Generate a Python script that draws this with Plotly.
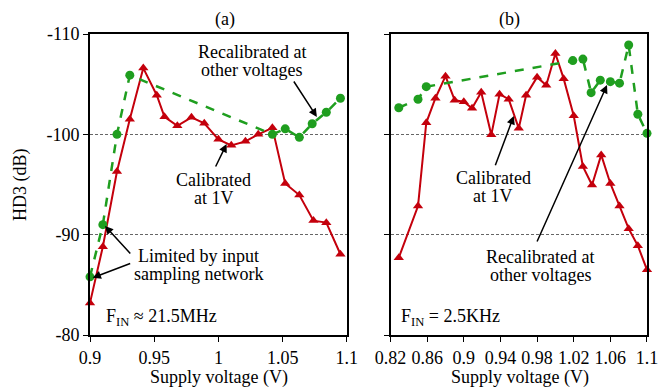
import plotly.graph_objects as go

# ---- data ----
left_v_red = [0.900, 0.910, 0.921, 0.931, 0.9415, 0.952, 0.958, 0.968, 0.979, 0.989,
              1.000, 1.010, 1.021, 1.031, 1.042, 1.052, 1.063, 1.074, 1.084, 1.095]
left_red = [-83.2, -88.8, -96.3, -101.5, -106.6, -103.9, -101.75, -100.85, -101.7, -101.1,
            -99.5, -98.9, -99.3, -100.0, -100.65, -95.1, -93.95, -91.4, -91.2, -88.05]
left_v_green = [0.900, 0.910, 0.921, 0.931, 1.042, 1.052, 1.063, 1.073, 1.084, 1.095]
left_green = [-85.8, -91.0, -100.0, -105.9, -100.0, -100.55, -99.7, -101.05, -102.2, -103.6]

right_v_red = [0.829, 0.850, 0.859, 0.869, 0.880, 0.890, 0.900, 0.909, 0.919, 0.930,
               0.939, 0.949, 0.960, 0.968, 0.980, 0.990, 1.000, 1.009, 1.020, 1.030,
               1.040, 1.050, 1.060, 1.070, 1.080, 1.090, 1.100]
right_red = [-87.7, -92.85, -101.15, -103.6, -105.8, -103.4, -103.25, -102.6, -104.2, -99.95,
             -104.0, -103.5, -100.6, -103.9, -105.7, -104.9, -108.05, -105.55, -101.85, -96.8,
             -94.95, -97.95, -95.1, -92.85, -90.6, -88.9, -86.5]
right_v_green = [0.829, 0.850, 0.859, 1.019, 1.030, 1.039, 1.049, 1.060, 1.070, 1.080, 1.090, 1.100]
right_green = [-102.65, -103.5, -104.75, -107.35, -107.5, -104.15, -105.4, -105.25, -105.1,
               -108.9, -102.0, -100.1]

y_tickvals = [-110, -100, -90, -80]
y_ticktext = ["-110", "-100", "-90", "-80"]
left_xticks = [0.9, 0.95, 1.0, 1.05, 1.1]
left_xtext = ["0.9", "0.95", "1", "1.05", "1.1"]
right_xticks = [0.82, 0.86, 0.9, 0.94, 0.98, 1.02, 1.06, 1.1]
right_xtext = ["0.82", "0.86", "0.9", "0.94", "0.98", "1.02", "1.06", "1.1"]

RED = "#c4000c"
GREEN = "#1f9e1f"
FONT = "Liberation Serif"

W, H = 670, 387
L, R, T, B = 90, 647.3, 34, 335


def px(x):
    return (x - L) / (R - L)


def py(y):
    return (B - y) / (B - T)


fig = go.Figure()


def add_series(xs, ys, color, dash, symbol, size, xa, ya, width):
    fig.add_trace(go.Scatter(
        x=xs, y=ys, mode="lines+markers", xaxis=xa, yaxis=ya,
        line=dict(color=color, width=width, dash=dash),
        marker=dict(color=color, symbol=symbol, size=size),
        cliponaxis=False, showlegend=False))


add_series(left_v_red, left_red, RED, "solid", "triangle-up", 9, "x", "y", 2)
add_series(left_v_green, left_green, GREEN, "dash", "circle", 9, "x", "y", 2.5)
add_series(right_v_red, right_red, RED, "solid", "triangle-up", 9, "x2", "y2", 2)
add_series(right_v_green, right_green, GREEN, "dash", "circle", 9, "x2", "y2", 2.5)

axis_common = dict(showline=True, linecolor="black", linewidth=2, mirror=True,
                   ticks="outside", ticklen=5, tickwidth=1.3, tickcolor="black",
                   tickfont=dict(family=FONT, size=18, color="black"), zeroline=False)

d1 = px(347)
d2 = px(390.7)
fig.update_layout(
    width=W, height=H,
    margin=dict(l=L, r=W - R, t=T, b=H - B),
    paper_bgcolor="white", plot_bgcolor="white",
    font=dict(family=FONT, size=18, color="black"),
    xaxis=dict(domain=[0, d1], range=[0.9, 1.1], tickvals=left_xticks, ticktext=left_xtext,
               showgrid=False, **axis_common),
    yaxis=dict(domain=[0, 1], range=[-80, -110], tickvals=y_tickvals, ticktext=y_ticktext,
               showgrid=True, gridcolor="#666", gridwidth=0.8, griddash="3px,2px",
               anchor="x", **axis_common),
    xaxis2=dict(domain=[d2, 1], range=[0.82, 1.1], tickvals=right_xticks, ticktext=right_xtext,
                showgrid=False, anchor="y2", **axis_common),
    yaxis2=dict(domain=[0, 1], range=[-80, -110], tickvals=y_tickvals, ticktext=y_ticktext,
                showticklabels=False, showgrid=True, gridcolor="#666", gridwidth=0.8,
                griddash="3px,2px", anchor="x2", **axis_common),
)


def text(x, y, s, xanchor="center", angle=0):
    fig.add_annotation(x=px(x), y=py(y), xref="paper", yref="paper", text=s,
                       showarrow=False, xanchor=xanchor, yanchor="middle",
                       textangle=angle, font=dict(family=FONT, size=18, color="black"))


def arrow(x0, y0, x1, y1):
    fig.add_annotation(x=px(x1), y=py(y1), xref="paper", yref="paper",
                       ax=x0 - x1, ay=y0 - y1, axref="pixel", ayref="pixel",
                       text="", showarrow=True, arrowhead=2, arrowsize=1.1,
                       arrowwidth=1.5, arrowcolor="black")


# titles
text(225, 20, "(a)")
text(510, 20, "(b)")
text(219.5, 377, "Supply voltage (V)")
text(520, 377, "Supply voltage (V)")
text(20, 185, "HD3 (dB)", angle=-90)

# left panel annotations
text(251.7, 52, "Recalibrated at")
text(251.7, 70, "other voltages")
arrow(293, 80, 317, 117)
text(214, 180, "Calibrated")
text(214, 198, "at 1V")
arrow(215, 168, 226.7, 144)
text(198.5, 256, "Limited by input")
text(198.5, 274, "sampling network")
arrow(131.7, 255, 105, 226)
arrow(131.7, 263, 92.7, 277.7)
text(104, 317, "F<sub>IN</sub> \u2248 21.5MHz", xanchor="left")

# right panel annotations
text(493.3, 178, "Calibrated")
text(493.3, 196, "at 1V")
arrow(495, 166.7, 514, 116)
text(540.7, 257, "Recalibrated at")
text(540.7, 275, "other voltages")
arrow(536.7, 243, 607.3, 85)
text(399, 317, "F<sub>IN</sub> = 2.5KHz", xanchor="left")

fig.write_html("out.html")
